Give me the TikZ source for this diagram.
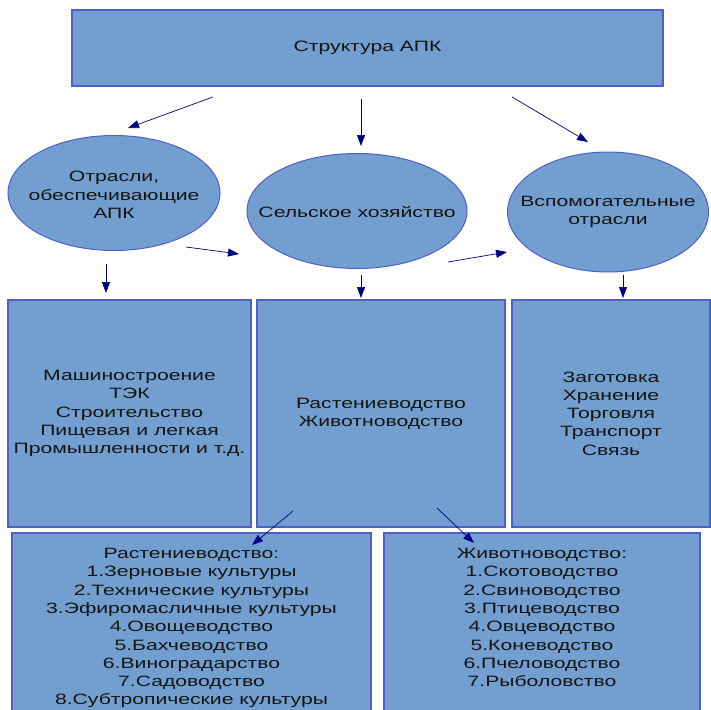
\documentclass[tikz,border=0pt]{standalone}
\usepackage{fontspec}
\setmainfont{Liberation Sans}[FakeStretch=1.41]
\usetikzlibrary{shapes.geometric,arrows.meta}
\definecolor{boxfill}{RGB}{114,159,207}
\definecolor{boxline}{RGB}{80,95,200}
\definecolor{arr}{RGB}{0,0,128}
\definecolor{txt}{RGB}{20,20,20}
\newcommand{\fsz}{\fontsize{15}{18.3}\selectfont}
\tikzset{
 box/.style={draw=boxline, fill=boxfill, line width=1.2pt, rectangle, inner sep=0pt, align=center, font=\fsz, text=txt},
 oval/.style={draw=boxline, fill=boxfill, line width=1pt, ellipse, inner sep=0pt},
 lbl/.style={align=center, font=\fsz, text=txt, inner sep=0pt},
 conn/.style={draw=arr, line width=0.7pt, -{Triangle[length=11pt,width=8pt]}},
}
\begin{document}
\begin{tikzpicture}[x=1pt,y=-1pt]
\useasboundingbox (0,0) rectangle (711,709);
\clip (0,0) rectangle (711,709);
\fill[white] (0,0) rectangle (711,709);
% top
\node[box, minimum width=591pt, minimum height=76pt] (top) at (367.5,48) {Структура АПК};
% ellipses
\node[oval, minimum width=212pt, minimum height=115pt] (e1) at (114,193) {};
\node[lbl] (e1t) at (114,195) {Отрасли,\\обеспечивающие\\АПК};
\node[oval, minimum width=220pt, minimum height=115pt] (e2) at (357,211) {};
\node[lbl] (e2t) at (357,212) {Сельское хозяйство};
\node[oval, minimum width=201pt, minimum height=120pt] (e3) at (608,212) {};
\node[lbl] (e3t) at (608,212) {Вспомогательные\\отрасли};
% middle boxes
\node[box, minimum width=243pt, minimum height=227pt] (b1) at (129.5,413.5) {Машиностроение\\ТЭК\\Строительство\\Пищевая и легкая\\Промышленности и т.д.};
\node[box, minimum width=248pt, minimum height=227pt] (b2) at (381,413.5) {Растениеводство\\Животноводство};
\node[box, minimum width=198pt, minimum height=227pt] (b3) at (611,413.5) {Заготовка\\Хранение\\Торговля\\Транспорт\\Связь};
% bottom boxes
\node[box, minimum width=359pt, minimum height=190pt] (c1) at (191.5,628) {};
\node[box, minimum width=316pt, minimum height=190pt] (c2) at (542,628) {};
\node[lbl, anchor=north] (t1) at (191.5,548) {Растениеводство:\\1.Зерновые культуры\\2.Технические культуры\\3.Эфиромасличные культуры\\4.Овощеводство\\5.Бахчеводство\\6.Виноградарство\\7.Садоводство\\8.Субтропические культуры};
\node[lbl, anchor=north] (t2) at (542,548) {Животноводство:\\1.Скотоводство\\2.Свиноводство\\3.Птицеводство\\4.Овцеводство\\5.Коневодство\\6.Пчеловодство\\7.Рыболовство};
% arrow endpoints
\coordinate (a1s) at (213,97);  \coordinate (a1e) at (128,128);
\coordinate (a2s) at (361,99);  \coordinate (a2e) at (361,146);
\coordinate (a3s) at (512,97);  \coordinate (a3e) at (588,142);
\coordinate (a4s) at (186,247); \coordinate (a4e) at (239,254);
\coordinate (a5s) at (448,262); \coordinate (a5e) at (507,252);
\coordinate (a6s) at (106,264); \coordinate (a6e) at (106,293);
\coordinate (a7s) at (361,275); \coordinate (a7e) at (361,298);
\coordinate (a8s) at (623,275); \coordinate (a8e) at (623,298);
\coordinate (a9s) at (293,511); \coordinate (a9e) at (252,545);
\coordinate (a10s) at (437,508); \coordinate (a10e) at (474,543);
\foreach \i in {1,...,10} { \draw[conn] (a\i s) -- (a\i e); }
\end{tikzpicture}
\end{document}
